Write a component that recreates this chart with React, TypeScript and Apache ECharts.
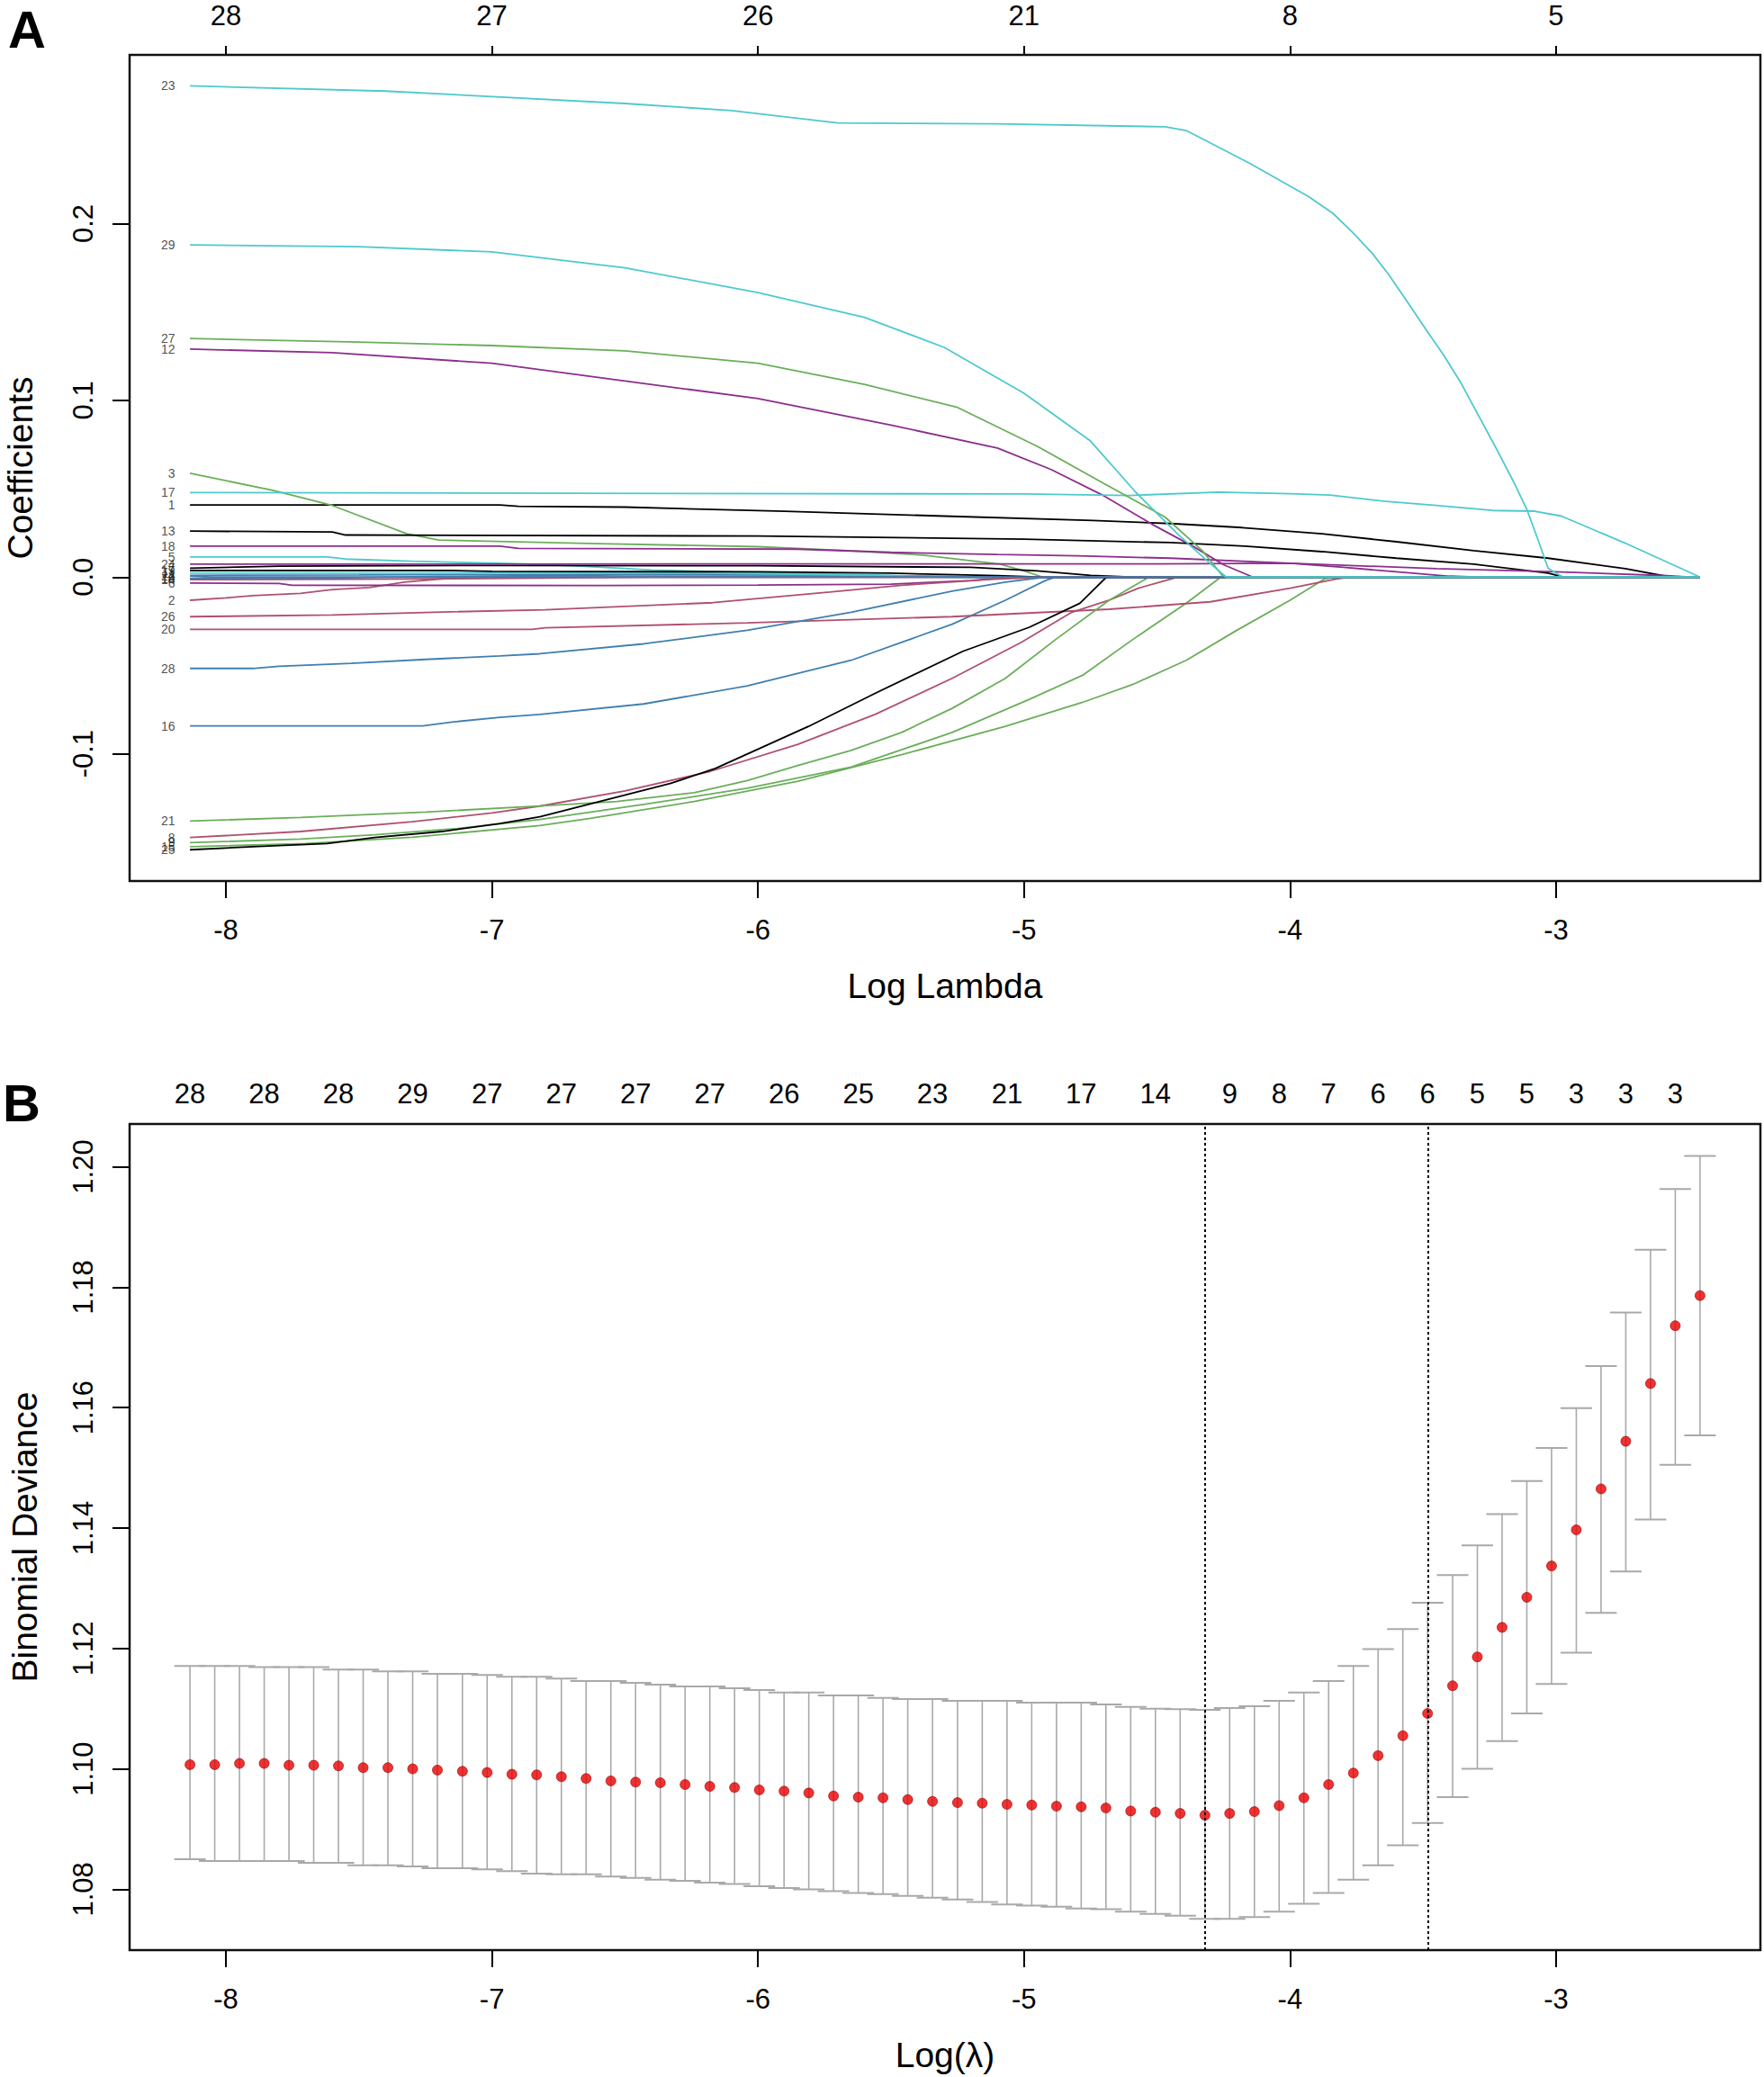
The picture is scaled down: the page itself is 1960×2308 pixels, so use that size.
import React, { useEffect, useRef } from "react";
import * as echarts from "echarts";

const FONT = "'Liberation Sans', Arial, Helvetica, sans-serif";
const W = 1960;
const H = 2308;

// ---------- shared lambda sequence (log scale) ----------
const logLambda = [
  -8.135, -8.042, -7.949, -7.856, -7.763, -7.67, -7.577, -7.484, -7.391, -7.298,
  -7.205, -7.111, -7.018, -6.925, -6.832, -6.739, -6.646, -6.553, -6.46, -6.367,
  -6.274, -6.181, -6.088, -5.995, -5.902, -5.809, -5.716, -5.623, -5.53, -5.437,
  -5.344, -5.25, -5.157, -5.064, -4.971, -4.878, -4.785, -4.692, -4.599, -4.506,
  -4.413, -4.32, -4.227, -4.134, -4.041, -3.948, -3.855, -3.762, -3.669, -3.576,
  -3.483, -3.389, -3.296, -3.203, -3.11, -3.017, -2.924, -2.831, -2.738, -2.645,
  -2.552, -2.459,
];

// ---------- panel A ----------
const logTicks = [-8, -7, -6, -5, -4, -3];
const dfAtTicks = [28, 27, 26, 21, 8, 5];
const coefTicks = [-0.1, 0, 0.1, 0.2];
const rPalette = ["#000000", "#B0506E", "#6AAE5A", "#3F7FB0", "#4DC9CE", "#8C2E8C"];

const v1 = [[-8.135, 0.0408], [-6.97, 0.0408], [-6.9, 0.04], [-6.5, 0.0396], [-5.9, 0.0372], [-5.3, 0.0345], [-4.74, 0.032], [-4.45, 0.0303], [-4.18, 0.028], [-3.88, 0.0245], [-3.6, 0.02], [-3.31, 0.015], [-3.03, 0.0107], [-2.74, 0.0048], [-2.57, 0], [-2.459, 0]];
const v2 = [[-8.135, -0.0131], [-8.0, -0.0118], [-7.9, -0.0105], [-7.72, -0.0092], [-7.6, -0.0071], [-7.46, -0.0059], [-7.33, -0.0029], [-7.15, -0.0005], [-7.05, 0], [-2.459, 0]];
const v3 = [[-8.135, 0.0587], [-7.82, 0.049], [-7.6, 0.0405], [-7.32, 0.0245], [-7.2, 0.0209], [-6.6, 0.0189], [-6.0, 0.0172], [-5.66, 0.015], [-5.38, 0.0124], [-5.09, 0.0073], [-5.0, 0.0035], [-4.93, 0], [-2.459, 0]];
const v4 = [[-8.135, 0.001], [-7.5, 0.0012], [-7.0, 0.0015], [-6.2, 0.0016], [-5.6, 0.001], [-5.25, 0.0003], [-5.15, 0], [-2.459, 0]];
const v5 = [[-8.135, 0.0114], [-7.62, 0.0114], [-7.55, 0.0102], [-7.3, 0.009], [-6.97, 0.0078], [-6.7, 0.0065], [-6.4, 0.004], [-6.1, 0.0028], [-5.8, 0.002], [-5.5, 0.001], [-5.3, 0], [-2.459, 0]];
const v6 = [[-8.135, -0.0034], [-7.8, -0.0036], [-7.75, -0.0046], [-6.6, -0.0048], [-6.0, -0.0045], [-5.5, -0.004], [-5.2, -0.002], [-5.05, 0], [-2.459, 0]];
const v7 = [[-8.135, 0.005], [-7.8, 0.0062], [-7.0, 0.0066], [-6.0, 0.0064], [-5.2, 0.0055], [-4.95, 0.0035], [-4.75, 0.001], [-4.6, 0], [-2.459, 0]];
const v8 = [[-8.135, -0.1474], [-7.72, -0.144], [-7.3, -0.1385], [-7.0, -0.1335], [-6.82, -0.1296], [-6.5, -0.121], [-6.18, -0.11], [-5.85, -0.0947], [-5.56, -0.0777], [-5.27, -0.0573], [-5.01, -0.0369], [-4.82, -0.0199], [-4.68, -0.0131], [-4.57, -0.0063], [-4.45, -0.0012], [-4.42, 0], [-2.459, 0]];
const v9 = [[-8.135, -0.1503], [-7.72, -0.1483], [-7.44, -0.1458], [-7.13, -0.1423], [-6.82, -0.1372], [-6.43, -0.1287], [-6.04, -0.1195], [-5.65, -0.1075], [-5.27, -0.0879], [-4.98, -0.0692], [-4.78, -0.0556], [-4.59, -0.0352], [-4.39, -0.0148], [-4.26, 0], [-2.459, 0]];
const v10 = [[-8.135, -0.0009], [-7.6, -0.0006], [-7.2, 0.0004], [-6.5, 0.0012], [-5.8, 0.0012], [-5.4, 0.0004], [-5.2, 0], [-2.459, 0]];
const v11 = [[-8.135, 0.0022], [-7.3, 0.0022], [-6.9, 0.0026], [-6.2, 0.0022], [-5.7, 0.0012], [-5.35, 0.0003], [-5.25, 0], [-2.459, 0]];
const v12 = [[-8.135, 0.129], [-7.6, 0.127], [-7.0, 0.121], [-6.5, 0.111], [-6.0, 0.101], [-5.5, 0.086], [-5.1, 0.073], [-4.9, 0.061], [-4.7, 0.046], [-4.52, 0.03], [-4.36, 0.017], [-4.25, 0.007], [-4.14, 0], [-2.459, 0]];
const v13 = [[-8.135, 0.026], [-7.6, 0.0255], [-7.55, 0.0238], [-6.0, 0.0232], [-5.0, 0.0215], [-4.45, 0.0195], [-4.17, 0.0175], [-3.88, 0.0144], [-3.6, 0.0107], [-3.31, 0.0073], [-3.03, 0.0022], [-2.97, 0], [-2.459, 0]];
const v14 = [[-8.135, -0.0015], [-7.5, -0.0012], [-6.8, -0.0006], [-6.4, -0.0001], [-6.3, 0], [-2.459, 0]];
const v15 = [[-8.135, -0.1526], [-7.7, -0.1508], [-7.3, -0.1472], [-6.82, -0.1406], [-6.63, -0.1365], [-6.24, -0.127], [-5.85, -0.1155], [-5.46, -0.1005], [-5.07, -0.0845], [-4.78, -0.0709], [-4.59, -0.0607], [-4.39, -0.0471], [-4.2, -0.0301], [-4.0, -0.0131], [-3.87, -0.001], [-3.83, 0], [-2.459, 0]];
const v16 = [[-8.135, -0.0842], [-7.26, -0.0842], [-7.15, -0.082], [-6.97, -0.0794], [-6.82, -0.0777], [-6.43, -0.0718], [-6.04, -0.0616], [-5.65, -0.0471], [-5.27, -0.0267], [-5.07, -0.0131], [-4.92, -0.002], [-4.88, 0], [-2.459, 0]];
const v17 = [[-8.135, 0.0478], [-5.0, 0.047], [-4.6, 0.0462], [-4.27, 0.0481], [-4.0, 0.0472], [-3.85, 0.0464], [-3.65, 0.043], [-3.45, 0.0405], [-3.24, 0.0377], [-3.08, 0.0373], [-2.98, 0.0345], [-2.74, 0.0192], [-2.459, 0]];
const v18 = [[-8.135, 0.0175], [-6.97, 0.0175], [-6.9, 0.0162], [-5.85, 0.0158], [-5.5, 0.014], [-5.1, 0.0128], [-4.8, 0.012], [-4.45, 0.0107], [-4.0, 0.0078], [-3.45, 0.0048], [-3.03, 0.0031], [-2.6, 0.0009], [-2.5, 0], [-2.459, 0]];
const v19 = [[-8.135, 0.0037], [-7.15, 0.0037], [-7.0, 0.0032], [-6.0, 0.003], [-5.5, 0.0022], [-5.1, 0.0008], [-4.95, 0], [-2.459, 0]];
const v20 = [[-8.135, -0.0296], [-6.85, -0.0296], [-6.8, -0.0287], [-6.04, -0.0259], [-5.27, -0.0224], [-4.68, -0.0182], [-4.3, -0.014], [-4.0, -0.0063], [-3.83, -0.0012], [-3.78, 0], [-2.459, 0]];
const v21 = [[-8.135, -0.1381], [-7.72, -0.136], [-7.25, -0.133], [-6.82, -0.1295], [-6.53, -0.127], [-6.24, -0.122], [-6.04, -0.1151], [-5.85, -0.1066], [-5.65, -0.0981], [-5.46, -0.0879], [-5.27, -0.0743], [-5.07, -0.0573], [-4.88, -0.0352], [-4.68, -0.0131], [-4.53, 0], [-2.459, 0]];
const v22 = [[-8.135, 0.0004], [-8.05, 0], [-2.459, 0]];
const v23 = [[-8.135, 0.278], [-7.4, 0.275], [-6.5, 0.268], [-6.1, 0.264], [-5.7, 0.257], [-5.1, 0.2565], [-4.47, 0.2548], [-4.39, 0.2527], [-4.15, 0.234], [-3.93, 0.2153], [-3.84, 0.206], [-3.76, 0.1944], [-3.69, 0.183], [-3.63, 0.1714], [-3.56, 0.156], [-3.49, 0.1403], [-3.42, 0.125], [-3.355, 0.1092], [-3.29, 0.091], [-3.22, 0.0714], [-3.16, 0.054], [-3.11, 0.0383], [-3.07, 0.022], [-3.03, 0.005], [-2.975, 0], [-2.459, 0]];
const v24 = [[-8.135, 0.0073], [-4.5, 0.0075], [-4.0, 0.0078], [-3.8, 0.0055], [-3.6, 0.003], [-3.4, 0.0005], [-3.3, 0], [-2.459, 0]];
const v25 = [[-8.135, -0.1543], [-7.9, -0.1526], [-7.62, -0.1508], [-7.44, -0.1474], [-7.19, -0.144], [-6.97, -0.1395], [-6.82, -0.1356], [-6.33, -0.1168], [-6.16, -0.1083], [-5.81, -0.0845], [-5.56, -0.0658], [-5.23, -0.042], [-4.98, -0.0284], [-4.79, -0.0148], [-4.69, 0], [-2.459, 0]];
const v26 = [[-8.135, -0.0224], [-7.6, -0.0215], [-7.25, -0.02], [-6.8, -0.0185], [-6.17, -0.0145], [-5.73, -0.0085], [-5.46, -0.0046], [-5.11, -0.0012], [-4.92, 0], [-2.459, 0]];
const v27 = [[-8.135, 0.135], [-7.5, 0.133], [-7.0, 0.131], [-6.5, 0.128], [-6.0, 0.121], [-5.6, 0.109], [-5.25, 0.096], [-4.95, 0.074], [-4.7, 0.053], [-4.47, 0.034], [-4.33, 0.015], [-4.25, 0], [-2.459, 0]];
const v28 = [[-8.135, -0.0517], [-7.9, -0.0517], [-7.8, -0.0505], [-7.53, -0.0488], [-7.25, -0.0466], [-6.97, -0.0446], [-6.82, -0.0434], [-6.43, -0.0378], [-6.04, -0.0301], [-5.65, -0.0199], [-5.27, -0.008], [-5.07, -0.0029], [-4.92, 0], [-2.459, 0]];
const v29 = [[-8.135, 0.188], [-7.5, 0.187], [-7.0, 0.184], [-6.5, 0.175], [-6.0, 0.161], [-5.6, 0.147], [-5.3, 0.13], [-5.0, 0.104], [-4.75, 0.077], [-4.58, 0.048], [-4.42, 0.024], [-4.31, 0.009], [-4.24, 0], [-2.459, 0]];

const coefPaths = [v1, v2, v3, v4, v5, v6, v7, v8, v9, v10, v11, v12, v13, v14, v15, v16, v17, v18, v19, v20, v21, v22, v23, v24, v25, v26, v27, v28, v29];

// ---------- panel B ----------
const devTicks = [1.08, 1.1, 1.12, 1.14, 1.16, 1.18, 1.2];
const cvMean = [
  1.1007, 1.1007, 1.1009, 1.1009, 1.1006, 1.1006, 1.1005, 1.1002, 1.1002, 1.1,
  1.0998, 1.0996, 1.0994, 1.0991, 1.099, 1.0987, 1.0984, 1.098, 1.0978, 1.0977,
  1.0974, 1.0971, 1.0969, 1.0965, 1.0963, 1.096, 1.0955, 1.0953, 1.0952, 1.0949,
  1.0946, 1.0944, 1.0943, 1.0941, 1.094, 1.0938, 1.0937, 1.0935, 1.093, 1.0928,
  1.0926, 1.0923, 1.0926, 1.0929, 1.0939, 1.0952, 1.0974, 1.0993, 1.1022, 1.1055,
  1.1092, 1.1138, 1.1186, 1.1235, 1.1285, 1.1337, 1.1397, 1.1465, 1.1544, 1.164,
  1.1736, 1.1786,
];
const cvUpper = [
  1.1171, 1.1171, 1.1171, 1.1169, 1.1169, 1.1169, 1.1165, 1.1165, 1.1162, 1.1162,
  1.1158, 1.1158, 1.1156, 1.1153, 1.1153, 1.115, 1.1146, 1.1146, 1.1143, 1.114,
  1.1137, 1.1137, 1.1134, 1.1131, 1.1127, 1.1127, 1.1122, 1.1122, 1.1118, 1.1116,
  1.1116, 1.1113, 1.1113, 1.1113, 1.111, 1.111, 1.111, 1.1107, 1.1103, 1.11,
  1.1099, 1.1098, 1.1101, 1.1104, 1.1113, 1.1127, 1.1146, 1.1171, 1.1199, 1.1232,
  1.1276, 1.1322, 1.1371, 1.1423, 1.1478, 1.1533, 1.1599, 1.1669, 1.1758, 1.1862,
  1.1963, 1.2018,
];
const cvLower = [
  1.085, 1.0847, 1.0847, 1.0847, 1.0847, 1.0844, 1.0844, 1.084, 1.084, 1.0838,
  1.0835, 1.0835, 1.0833, 1.083, 1.0826, 1.0825, 1.0825, 1.0821, 1.0819, 1.0816,
  1.0814, 1.0811, 1.0809, 1.0805, 1.0802, 1.08, 1.0797, 1.0794, 1.0792, 1.0789,
  1.0786, 1.0783, 1.0779, 1.0775, 1.0773, 1.0771, 1.0768, 1.0767, 1.0763, 1.0759,
  1.0756, 1.0751, 1.0751, 1.0754, 1.0763, 1.0776, 1.0794, 1.0816, 1.084, 1.0873,
  1.091, 1.0953, 1.1, 1.1046, 1.1092, 1.1141, 1.1193, 1.1259, 1.1328, 1.1414,
  1.1505, 1.1554,
];
const cvTopIdx = [0, 3, 6, 9, 12, 15, 18, 21, 24, 27, 30, 33, 36, 39, 42, 44, 46, 48, 50, 52, 54, 56, 58, 60];
const cvTopNz = [28, 28, 28, 29, 27, 27, 27, 27, 26, 25, 23, 21, 17, 14, 9, 8, 7, 6, 6, 5, 5, 3, 3, 3];
const lambdaMinIdx = 41;
const lambda1seIdx = 50;

// ---------- layout ----------
const X_MIN = -8.362;
const X_MAX = -2.232;
const A_Y_MIN = -0.172;
const A_Y_MAX = 0.2955;
const B_Y_MIN = 1.0699;
const B_Y_MAX = 1.2071;

const TICK_FS = 31;
const NAME_FS = 39;
const INK = "#000";

function bottomAxis(grid: number, name: string) {
  return {
    gridIndex: grid,
    type: "value",
    position: "bottom",
    min: X_MIN,
    max: X_MAX,
    axisLine: { show: false, onZero: false },
    splitLine: { show: false },
    axisTick: { show: true, customValues: logTicks, length: 19, lineStyle: { color: INK, width: 2 } },
    axisLabel: {
      customValues: logTicks,
      fontSize: TICK_FS,
      lineHeight: TICK_FS,
      fontFamily: FONT,
      color: INK,
      margin: 39,
      formatter: (v: number) => String(Math.round(v)),
    },
    name,
    nameLocation: "middle",
    nameGap: 97,
    nameTextStyle: { fontSize: NAME_FS, fontFamily: FONT, color: INK, lineHeight: NAME_FS },
  };
}

function leftAxis(grid: number, min: number, max: number, ticks: number[], digits: number, name: string, gap: number) {
  return {
    gridIndex: grid,
    type: "value",
    min,
    max,
    axisLine: { show: false, onZero: false },
    splitLine: { show: false },
    axisTick: { show: true, customValues: ticks, length: 19, lineStyle: { color: INK, width: 2 } },
    axisLabel: {
      customValues: ticks,
      rotate: 90,
      fontSize: TICK_FS,
      lineHeight: TICK_FS,
      fontFamily: FONT,
      color: INK,
      margin: 36,
      formatter: (v: number) => v.toFixed(digits),
    },
    name,
    nameLocation: "middle",
    nameGap: gap,
    nameTextStyle: { fontSize: NAME_FS, fontFamily: FONT, color: INK, lineHeight: NAME_FS },
  };
}

function buildOption() {
  const topBVals = cvTopIdx.map((i) => logLambda[i]);

  const pathSeries = coefPaths.map((p, i) => ({
    type: "line",
    name: String(i + 1),
    xAxisIndex: 0,
    yAxisIndex: 0,
    data: p,
    showSymbol: false,
    symbol: "none",
    silent: true,
    animation: false,
    lineStyle: { width: 1.8, color: rPalette[i % 6] },
    itemStyle: { color: rPalette[i % 6] },
    z: 2,
  }));

  const pathLabels = {
    type: "scatter",
    xAxisIndex: 0,
    yAxisIndex: 0,
    silent: true,
    symbolSize: 1,
    itemStyle: { color: "rgba(0,0,0,0)" },
    data: coefPaths.map((p, i) => ({ value: [p[0][0], p[0][1]], name: String(i + 1) })),
    label: {
      show: true,
      position: "left",
      distance: 16,
      formatter: "{b}",
      fontSize: 14,
      fontFamily: FONT,
      color: "#222",
    },
    z: 3,
  };

  const errorBars = {
    type: "custom",
    xAxisIndex: 2,
    yAxisIndex: 1,
    silent: true,
    data: logLambda.map((x, i) => [x, cvLower[i], cvUpper[i]]),
    encode: { x: 0, y: [1, 2] },
    renderItem: (params: any, api: any) => {
      const x = api.value(0);
      const lo = api.coord([x, api.value(1)]);
      const hi = api.coord([x, api.value(2)]);
      const hw = 17.5;
      const style = { stroke: "#A9A9A9", lineWidth: 2 };
      return {
        type: "group",
        children: [
          { type: "line", shape: { x1: lo[0], y1: lo[1], x2: hi[0], y2: hi[1] }, style: { stroke: "#A9A9A9", lineWidth: 1.6 } },
          { type: "line", shape: { x1: hi[0] - hw, y1: hi[1], x2: hi[0] + hw, y2: hi[1] }, style },
          { type: "line", shape: { x1: lo[0] - hw, y1: lo[1], x2: lo[0] + hw, y2: lo[1] }, style },
        ],
      };
    },
    z: 2,
  };

  const dots = {
    type: "scatter",
    xAxisIndex: 2,
    yAxisIndex: 1,
    silent: true,
    symbol: "circle",
    symbolSize: 11,
    data: logLambda.map((x, i) => [x, cvMean[i]]),
    itemStyle: { color: "#E80000", borderColor: "#A00000", borderWidth: 0.8 },
    z: 4,
    markLine: {
      silent: true,
      symbol: ["none", "none"],
      label: { show: false },
      lineStyle: { color: "#000", type: [3, 3], width: 2 },
      data: [{ xAxis: logLambda[lambdaMinIdx] }, { xAxis: logLambda[lambda1seIdx] }],
    },
  };

  return {
    animation: false,
    backgroundColor: "#ffffff",
    textStyle: { fontFamily: FONT },
    grid: [
      { left: 144, top: 61, width: 1812, height: 918, outerBoundsMode: "none", containLabel: false, show: true, borderColor: "#111", borderWidth: 2.5, backgroundColor: "transparent" },
      { left: 144, top: 1249, width: 1812, height: 918, outerBoundsMode: "none", containLabel: false, show: true, borderColor: "#111", borderWidth: 2.5, backgroundColor: "transparent" },
    ],
    xAxis: [
      bottomAxis(0, "Log Lambda"),
      {
        gridIndex: 0,
        type: "value",
        position: "top",
        min: X_MIN,
        max: X_MAX,
        axisLine: { show: false, onZero: false },
        splitLine: { show: false },
        axisTick: { show: true, customValues: logTicks, length: 10, lineStyle: { color: INK, width: 2 } },
        axisLabel: {
          customValues: logTicks,
          fontSize: TICK_FS,
          lineHeight: TICK_FS,
          fontFamily: FONT,
          color: INK,
          margin: 28,
          formatter: (v: number) => {
            const k = logTicks.indexOf(Math.round(v));
            return k >= 0 ? String(dfAtTicks[k]) : "";
          },
        },
      },
      bottomAxis(1, "Log(λ)"),
      {
        gridIndex: 1,
        type: "value",
        position: "top",
        min: X_MIN,
        max: X_MAX,
        axisLine: { show: false, onZero: false },
        splitLine: { show: false },
        axisTick: { show: false },
        axisLabel: {
          customValues: topBVals,
          fontSize: TICK_FS,
          lineHeight: TICK_FS,
          fontFamily: FONT,
          color: INK,
          margin: 18,
          formatter: (v: number) => {
            let best = 0;
            let bd = Infinity;
            topBVals.forEach((t, k) => {
              const d = Math.abs(t - v);
              if (d < bd) {
                bd = d;
                best = k;
              }
            });
            return String(cvTopNz[best]);
          },
        },
      },
    ],
    yAxis: [
      leftAxis(0, A_Y_MIN, A_Y_MAX, coefTicks, 1, "Coefficients", 102),
      leftAxis(1, B_Y_MIN, B_Y_MAX, devTicks, 2, "Binomial Deviance", 97),
    ],
    graphic: [
      { type: "text", left: 9, top: 3, style: { text: "A", fontSize: 58, fontWeight: "bold", fontFamily: FONT, fill: "#000" } },
      { type: "text", left: 3, top: 1196, style: { text: "B", fontSize: 58, fontWeight: "bold", fontFamily: FONT, fill: "#000" } },
    ],
    series: [...pathSeries, pathLabels, errorBars, dots],
  };
}

export default function App() {
  const ref = useRef<HTMLDivElement>(null);
  useEffect(() => {
    document.body.style.margin = "0";
    if (!ref.current) return;
    const chart = echarts.init(ref.current, null, { renderer: "svg", width: W, height: H });
    chart.setOption(buildOption() as any);
    return () => chart.dispose();
  }, []);
  return <div ref={ref} style={{ width: W, height: H, position: "absolute", left: 0, top: 0, background: "#fff" }} />;
}
